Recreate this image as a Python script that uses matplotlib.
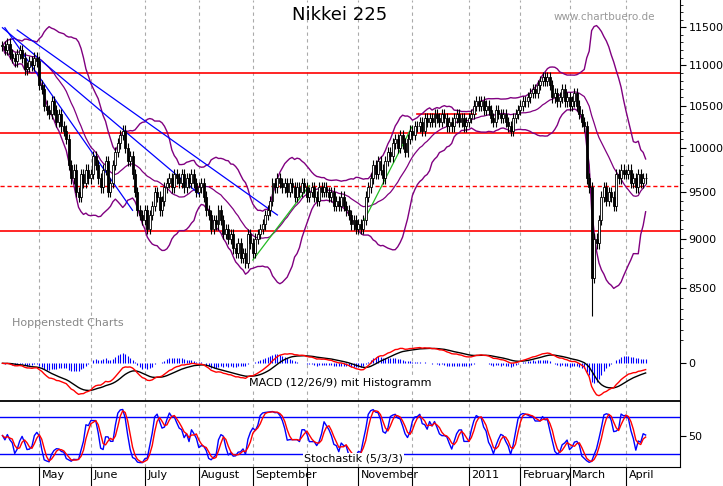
import numpy as np
import pandas as pd
import matplotlib
matplotlib.use("Agg")
import matplotlib.pyplot as plt
from matplotlib.ticker import FixedLocator, NullFormatter

# daily closes, Nikkei 225, Apr 2010 - Apr 2011
closes = [
    11250, 11200, 11280, 11150, 11100, 11050, 11150, 11200, 11100, 10950, 10980, 11050, 11000, 11100, 11050,
    10750, 10700, 10500, 10450, 10400, 10550, 10450, 10300, 10400, 10250, 10200,
    10100, 9800, 9650, 9750, 9500, 9450, 9700, 9600, 9750, 9650,
    9700, 9900, 9800, 9650, 9550, 9750, 9850, 9500, 9600, 9800,
    9950, 10050, 10150, 10200, 10000, 9850, 9900, 9700, 9500, 9300, 9250,
    9200, 9300, 9100, 9250, 9350, 9500, 9450, 9300, 9400, 9550,
    9600, 9650, 9550, 9700, 9650, 9600, 9700, 9550, 9650, 9600, 9700, 9600, 9500, 9550,
    9600, 9450, 9300, 9250, 9100, 9200, 9150, 9300, 9200, 9050,
    9100, 9000, 9050, 8900, 8850, 8950, 8800, 8850, 8750, 9050, 8950, 8850,
    9000, 9050, 9100, 9150, 9250, 9300, 9400, 9600, 9550, 9650, 9600,
    9550, 9600, 9500, 9600, 9550, 9450, 9550, 9500, 9600, 9550, 9450,
    9500, 9550, 9450, 9400, 9550, 9500, 9550, 9500, 9450, 9500, 9350,
    9400, 9350, 9450, 9350, 9300, 9250, 9150, 9200, 9100, 9150, 9100,
    9200, 9450, 9550, 9650, 9800, 9700, 9850, 9750, 9650, 9850, 9950,
    9900, 10050, 10100, 10000, 10150, 10050, 9950, 10100, 10200, 10150, 10250,
    10250, 10300, 10200, 10350, 10300, 10350, 10300, 10400, 10350, 10300, 10400,
    10350, 10250, 10300, 10250, 10350, 10400, 10300, 10350, 10250, 10300, 10350,
    10400, 10500, 10550, 10500, 10550, 10450, 10500, 10450, 10350, 10300, 10450, 10400,
    10350, 10400, 10300, 10250, 10200, 10350, 10400, 10450, 10500, 10550,
    10550, 10600, 10650, 10700, 10650, 10750, 10800, 10850, 10800, 10850,
    10750, 10600, 10650, 10550, 10600, 10700, 10550, 10600, 10500,
    10550, 10650, 10500, 10400, 10300, 10250, 9650, 9550, 8600, 9000,
    8950, 9200, 9450, 9550, 9400, 9500, 9450, 9350, 9700, 9650, 9750, 9700,
    9700, 9750, 9600, 9650, 9550, 9700, 9600, 9650, 9650,
]
spike_low = {240: 8230}

month_labels = ["May", "June", "July", "August", "September", "", "November", "", "2011",
                "February", "March", "April"]
month_starts = ["2010-05-01", "2010-06-01", "2010-07-01", "2010-08-01", "2010-09-01", "2010-10-01",
                "2010-11-01", "2010-12-01", "2011-01-01", "2011-02-01", "2011-03-01", "2011-04-01"]

hlines = [10900, 10166, 9077]
hline_dashed = 9570
price_ticks = [8500, 9000, 9500, 10000, 10500, 11000, 11500]

# trend lines (index, price)
blue_lines = [((1, 11490), (53, 9300)), ((0, 11490), (80, 9480)), ((6, 11460), (112, 9250))]
green_lines = [((102, 8780), (125, 9570)), ((145.5, 9100), (166.7, 10240))]
short_red = ((169, 10400), (193, 10400))

dates = pd.bdate_range("2010-04-12", periods=len(closes))
c = pd.Series(closes, dtype=float)
o = c.shift(1).fillna(c.iloc[0])
hi = np.maximum(o, c) * 1.006
lo = np.minimum(o, c) * 0.994
for k, v in spike_low.items():
    lo[k] = v
idx = np.arange(len(c))
mpos = [int(np.searchsorted(dates, pd.Timestamp(d))) for d in month_starts]

# indicators
ma = c.rolling(20, min_periods=1).mean()
sd = c.rolling(20, min_periods=2).std().fillna(0)
bb_up, bb_lo = ma + 2 * sd, ma - 2 * sd
macd = c.ewm(span=12, adjust=False).mean() - c.ewm(span=26, adjust=False).mean()
sig = macd.ewm(span=9, adjust=False).mean()
hist = macd - sig
hh = hi.rolling(5, min_periods=1).max()
ll = lo.rolling(5, min_periods=1).min()
k_fast = 100 * (c - ll) / (hh - ll)
k_slow = k_fast.rolling(3, min_periods=1).mean()
d_slow = k_slow.rolling(3, min_periods=1).mean()

fig = plt.figure(figsize=(7.23, 4.86), dpi=100)
W = 680 / 723
ax = fig.add_axes([0, 1 - 342 / 486, W, 342 / 486])
ax2 = fig.add_axes([0, 1 - 401 / 486, W, 59 / 486], sharex=ax)
ax3 = fig.add_axes([0, 1 - 467 / 486, W, 66 / 486], sharex=ax)

xlim = (-1, 276)
for a in (ax, ax2, ax3):
    a.set_xlim(*xlim)
    for m in mpos:
        a.axvline(m, color="#aaaaaa", lw=0.8, ls=(0, (3, 3)), zorder=0)
    a.yaxis.tick_right()
    a.tick_params(axis="y", labelsize=8, direction="out", length=4, pad=2)
    for s in ("top", "left"):
        a.spines[s].set_visible(False)
    a.tick_params(axis="x", bottom=False, labelbottom=False)

# price panel
ax.set_yscale("log")
ax.set_ylim(7985, 11865)
ax.yaxis.set_major_locator(FixedLocator(price_ticks))
ax.yaxis.set_minor_locator(FixedLocator(np.arange(8000, 11900, 100)))
ax.yaxis.set_minor_formatter(NullFormatter())
ax.set_yticklabels([str(t) for t in price_ticks])
ax.tick_params(axis="y", which="minor", length=2)
ax.spines["bottom"].set_visible(False)

for y in hlines:
    ax.axhline(y, color="red", lw=1.2, zorder=1)
ax.axhline(hline_dashed, color="red", lw=1.0, ls=(0, (3, 2)), zorder=1)
ax.plot([short_red[0][0], short_red[1][0]], [short_red[0][1], short_red[1][1]], color="red", lw=1.2)
ax.plot(idx, bb_up, color="#800080", lw=1.0)
ax.plot(idx, bb_lo, color="#800080", lw=1.0)
ax.plot(idx, ma, color="#800080", lw=0.9)
for (x0, y0), (x1, y1) in blue_lines:
    ax.plot([x0, x1], [y0, y1], color="blue", lw=0.9)
for (x0, y0), (x1, y1) in green_lines:
    ax.plot([x0, x1], [y0, y1], color="#22bb22", lw=0.9)

ax.vlines(idx, lo, hi, color="black", lw=0.8, zorder=3)
up = c >= o
ax.bar(idx[up], (c - o)[up].clip(lower=8), bottom=o[up], width=0.8, color="white",
       edgecolor="black", lw=0.6, zorder=4)
ax.bar(idx[~up], (o - c)[~up], bottom=c[~up], width=0.8, color="black",
       edgecolor="black", lw=0.6, zorder=4)

ax.text(0.5, 0.955, "Nikkei 225", transform=ax.transAxes, fontsize=13, ha="center", va="center")
ax.text(0.963, 0.95, "www.chartbuero.de", transform=ax.transAxes, fontsize=7.5, color="#999999",
        ha="right", va="center")
ax.text(0.018, 0.055, "Hoppenstedt Charts", transform=ax.transAxes, fontsize=8, color="#888888",
        ha="left", va="center")

# MACD panel
ax2.set_ylim(-460, 260)
ax2.set_yticks([0])
ax2.spines["bottom"].set_visible(False)
ax2.vlines(idx, 0, hist * 1.2, color="blue", lw=0.8)
ax2.plot(idx, sig, color="black", lw=1.0)
ax2.plot(idx, macd, color="red", lw=1.0)
ax2.text(0.5, 0.3, "MACD (12/26/9) mit Histogramm", transform=ax2.transAxes, fontsize=8,
         ha="center", va="center", bbox=dict(fc="white", ec="none", pad=0.5))

# Stochastic panel
ax3.set_ylim(0, 105)
ax3.set_yticks([50])
ax3.spines["top"].set_visible(True)
ax3.spines["top"].set_linewidth(1.3)
ax3.axhline(80, color="blue", lw=1.0)
ax3.axhline(20, color="blue", lw=1.0)
ax3.plot(idx, k_slow, color="blue", lw=1.0)
ax3.plot(idx, d_slow, color="red", lw=1.0)
ax3.text(0.52, 0.13, "Stochastik (5/3/3)", transform=ax3.transAxes, fontsize=8,
         ha="center", va="center", bbox=dict(fc="white", ec="none", pad=0.5))
ax3.tick_params(axis="x", bottom=True, length=20, width=0.8, direction="out")
ax3.set_xticks(mpos)
for m, lab in zip(mpos, month_labels):
    ax3.text(m + 1, -4, lab, fontsize=8, ha="left", va="top", clip_on=False)

fig.savefig("out.png", dpi=100)
